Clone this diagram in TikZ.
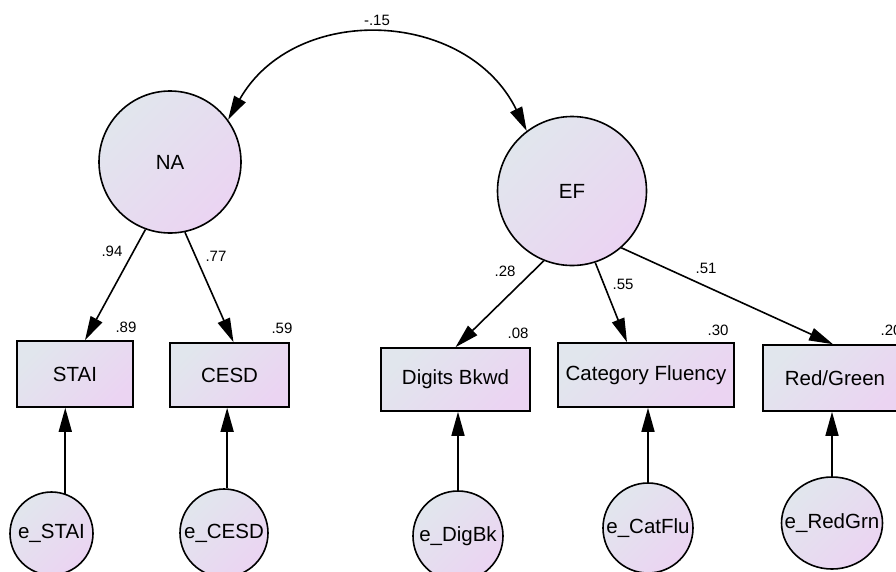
\documentclass[tikz,border=0pt]{standalone}
\usepackage{fontspec}
\setmainfont{Liberation Sans}
\usetikzlibrary{arrows.meta,shapes.geometric}
\definecolor{fillA}{RGB}{225,230,237}
\definecolor{fillB}{RGB}{235,212,242}

\begin{document}
\begin{tikzpicture}[x=1pt,y=-1pt,
  every node/.style={font=\fontsize{20.5}{24}\selectfont},
  shd/.style={draw,line width=1.6pt,top color=fillA,bottom color=fillB,shading angle=45,inner sep=0pt},
  lat/.style={shd,circle},
  obs/.style={shd,rectangle},
  coef/.style={font=\fontsize{15}{18}\selectfont,inner sep=0pt},
  arr/.style={line width=1.6pt,-{Triangle[length=24pt,width=13pt]}}]
\useasboundingbox (0,0) rectangle (896,571);
% latent factors
\node[lat,minimum size=142pt] (NA) at (170,162) {NA};
\node[lat,minimum size=149pt] (EF) at (572,191) {EF};
% observed measures
\node[obs,minimum width=116pt,minimum height=66pt] (STAI) at (75,374) {STAI};
\node[obs,minimum width=119pt,minimum height=64pt] (CESD) at (229.5,375) {CESD};
\node[obs,minimum width=149pt,minimum height=63pt] (DigBk) at (455.5,379.5) {Digits Bkwd};
\node[obs,minimum width=176pt,minimum height=64pt] (CatFlu) at (646,375) {Category Fluency};
\node[obs,minimum width=144pt,minimum height=66pt] (RedGrn) at (835,378) {Red/Green};
% error terms
\node[lat,minimum size=83pt] (eSTAI) at (51.5,533.5) {\makebox[0pt]{e\_STAI}};
\node[lat,minimum size=88pt] (eCESD) at (224,533) {\makebox[0pt]{e\_CESD}};
\node[lat,minimum size=90pt] (eDigBk) at (458,536) {\makebox[0pt]{e\_DigBk}};
\node[lat,minimum size=90pt] (eCatFlu) at (648,528) {\makebox[0pt]{e\_CatFlu}};
\node[shd,ellipse,minimum width=101pt,minimum height=92pt] (eRedGrn) at (832,523) {\makebox[0pt]{e\_RedGrn}};
% covariance
\draw[line width=1.6pt,{Triangle[length=24pt,width=13pt]}-{Triangle[length=24pt,width=13pt]}]
  (EF.127) .. controls (467,9) and (295,2) .. (NA.36);
\node[coef] (cNAEF) at (377,20) {-.15};
% loadings
\draw[arr] (NA.250) -- ([xshift=10pt]STAI.north);
\draw[arr] (NA.282) -- ([xshift=4pt]CESD.north);
\draw[arr] (EF.248) -- (DigBk.north);
\draw[arr] (EF.288) -- ([xshift=-19pt]CatFlu.north);
\draw[arr] (EF.311) -- ([xshift=-2pt]RedGrn.north);
\node[coef] (wSTAI) at (112,251) {.94};
\node[coef] (wCESD) at (216,256) {.77};
\node[coef] (wDigBk) at (505,271) {.28};
\node[coef] (wCatFlu) at (623,284) {.55};
\node[coef] (wRedGrn) at (706,268) {.51};
% squared multiple correlations
\node[coef] (rSTAI) at (126,327) {.89};
\node[coef] (rCESD) at (282,328) {.59};
\node[coef] (rDigBk) at (518,333) {.08};
\node[coef] (rCatFlu) at (718,330) {.30};
\node[coef] (rRedGrn) at (891,330) {.20};
% residual paths
\draw[arr] (eSTAI.71) -- (eSTAI.71 |- STAI.south);
\draw[arr] (eCESD.86) -- (eCESD.86 |- CESD.south);
\draw[arr] (eDigBk.north) -- (eDigBk.north |- DigBk.south);
\draw[arr] (eCatFlu.north) -- (eCatFlu.north |- CatFlu.south);
\draw[arr] (eRedGrn.north) -- (eRedGrn.north |- RedGrn.south);
\end{tikzpicture}
\end{document}
